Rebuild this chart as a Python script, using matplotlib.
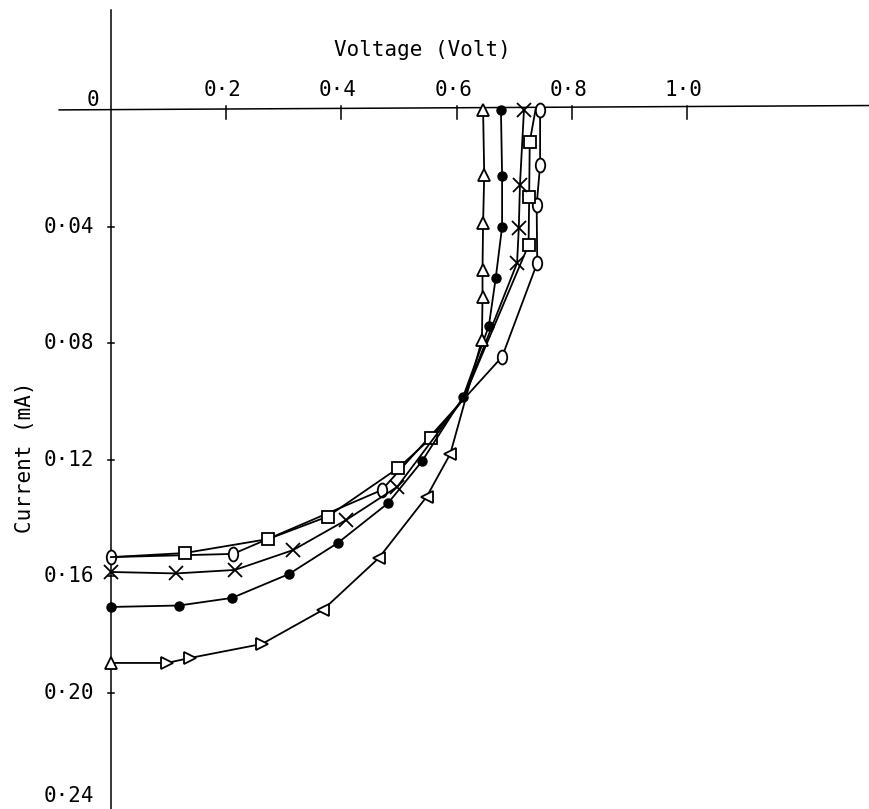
import matplotlib
matplotlib.use("Agg")
import matplotlib.pyplot as plt
import numpy as np
from matplotlib.path import Path

# region data (voltage in V, current in mA)
tri_v = [0.0, 0.097, 0.137, 0.262, 0.368, 0.465, 0.548, 0.589, 0.644, 0.645, 0.645, 0.646, 0.648, 0.646]
tri_i = [0.1897, 0.1897, 0.1880, 0.1832, 0.1715, 0.1537, 0.1327, 0.1180, 0.0789, 0.0642, 0.0549, 0.0388, 0.0223, 0.0]

dot_v = [0.0, 0.118, 0.210, 0.309, 0.394, 0.481, 0.540, 0.611, 0.656, 0.668, 0.679, 0.679, 0.677]
dot_i = [0.1705, 0.1700, 0.1674, 0.1592, 0.1485, 0.1349, 0.1205, 0.0986, 0.0741, 0.0576, 0.0401, 0.0226, 0.0]

cross_v = [0.0, 0.113, 0.215, 0.316, 0.408, 0.497, 0.612, 0.705, 0.708, 0.710, 0.717]
cross_i = [0.1585, 0.1590, 0.1578, 0.1510, 0.1407, 0.1293, 0.0990, 0.0525, 0.0405, 0.0257, 0.0]

sq_v = [0.0, 0.128, 0.273, 0.376, 0.499, 0.556, 0.612, 0.725, 0.726, 0.727, 0.737]
sq_i = [0.1534, 0.1520, 0.1472, 0.1395, 0.1228, 0.1125, 0.0990, 0.0463, 0.0298, 0.0109, 0.0]

circ_v = [0.0, 0.212, 0.470, 0.612, 0.679, 0.740, 0.739, 0.745, 0.745]
circ_i = [0.1534, 0.1523, 0.1304, 0.0993, 0.0847, 0.0525, 0.0326, 0.0189, 0.0]

x_ticks = [0.2, 0.4, 0.6, 0.8, 1.0]
x_labels = ["0·2", "0·4", "0·6", "0·8", "1·0"]
y_ticks = [0.04, 0.08, 0.12, 0.16, 0.20, 0.24]
y_labels = ["0·04", "0·08", "0·12", "0·16", "0·20", "0·24"]
# endregion

# hand-drawn triangles point different ways along the curve
tri_markers = ['^', '>', '>', '>', '<', '<', '<', '<', '^', '^', '^', '^', '^', '^']
# which vertices carry a marker (the rest are only where the line bends)
cross_mark = [True, True, True, True, True, True, False, True, True, True, True]
sq_mark = [False, True, True, True, True, True, False, True, True, True, False]
circ_mark = [True, True, True, False, True, True, True, True, True]

# tall ellipse, like a hand-written "0"
ell = Path.unit_circle()
ell = Path(ell.vertices * np.array([0.68, 1.0]), ell.codes)

fig = plt.figure(figsize=(8.69, 8.09), dpi=100)
ax = fig.add_axes([0, 0, 1, 1])
ax.set_xlim(-0.1927, 1.316)
ax.set_ylim(0.2398, -0.0377)
ax.axis('off')

# stencil-style lettering -> monospaced font
font = dict(family='DejaVu Sans Mono', fontsize=15, color='black')

# axes drawn by hand
ax.plot([-0.09, 1.316], [0.0, -0.0015], color='black', lw=1.1)
ax.plot([0.0, 0.0], [-0.0343, 0.2398], color='black', lw=1.1)
for xt in x_ticks:
    ax.plot([xt, xt], [-0.0012, 0.0030], color='black', lw=1.1)
for yt in y_ticks:
    ax.plot([-0.006, 0.006], [yt, yt], color='black', lw=1.1)

for xt, lab in zip(x_ticks, x_labels):
    ax.text(xt - 0.006, -0.0070, lab, ha='center', va='center', **font)
for yt, lab in zip(y_ticks, y_labels):
    # bottom label sits at the very edge of the sheet, nudge it in
    ax.text(-0.030, min(yt, 0.2355), lab, ha='right', va='center', **font)
ax.text(-0.032, -0.0035, "0", ha='center', va='center', **font)
ax.text(0.540, -0.0205, "Voltage (Volt)", ha='center', va='center', **font)
ax.text(-0.150, 0.119, "Current (mA)", ha='center', va='center', rotation=90, **font)

lw = 1.3
# curves
ax.plot(circ_v, circ_i, color='black', lw=lw, marker=ell, ms=10, mfc='white',
        mec='black', mew=1.3, markevery=circ_mark, zorder=3)
ax.plot(sq_v, sq_i, color='black', lw=lw, marker='s', ms=8, mfc='white',
        mec='black', mew=1.3, markevery=sq_mark, zorder=3)
ax.plot(cross_v, cross_i, color='black', lw=lw, marker='x', ms=10,
        mec='black', mew=1.3, markevery=cross_mark, zorder=3)
ax.plot(dot_v, dot_i, color='black', lw=lw, marker='o', ms=6.5, mfc='black',
        mec='black', zorder=3)
ax.plot(tri_v, tri_i, color='black', lw=lw, zorder=3)
for v, i, m in zip(tri_v, tri_i, tri_markers):
    ax.plot(v, i, marker=m, ms=9, mfc='white', mec='black', mew=1.3,
            linestyle='none', zorder=4)

fig.savefig("out.png", dpi=100)
